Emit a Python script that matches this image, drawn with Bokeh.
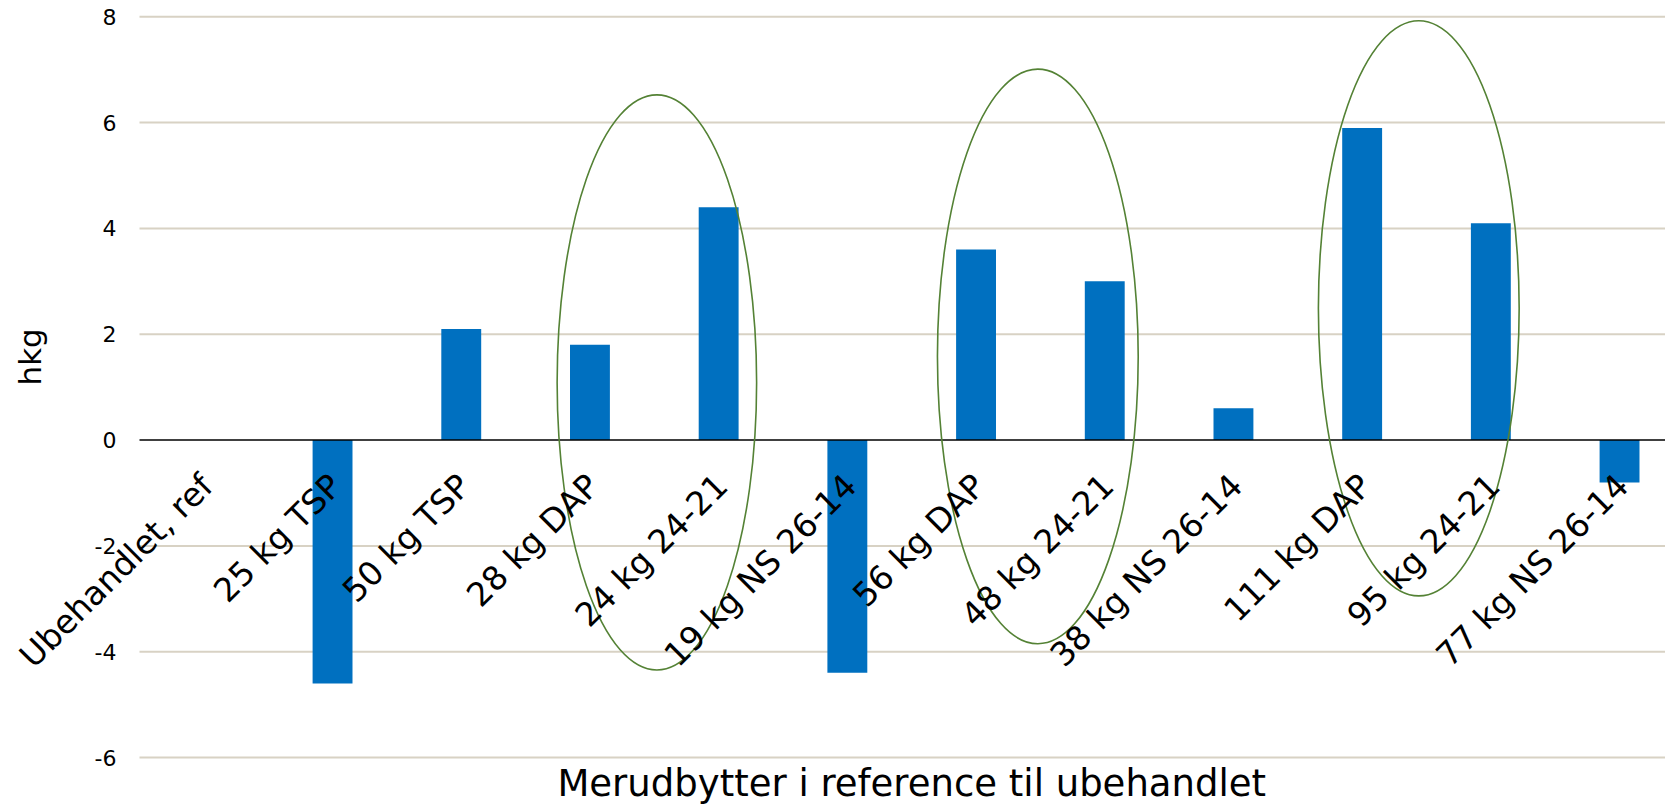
from math import pi
from bokeh.plotting import figure
from bokeh.models import Range1d, FixedTicker, ColumnDataSource, Label
from bokeh.embed import file_html
from bokeh.resources import INLINE

categories = ["Ubehandlet, ref", "25 kg TSP", "50 kg TSP", "28 kg DAP",
              "24 kg 24-21", "19 kg NS 26-14", "56 kg DAP", "48 kg 24-21",
              "38 kg NS 26-14", "111 kg DAP", "95 kg 24-21", "77 kg NS 26-14"]
values = [0, -4.6, 2.1, 1.8, 4.4, -4.4, 3.6, 3.0, 0.6, 5.9, 4.1, -0.8]
y_ticks = [-6, -4, -2, 0, 2, 4, 6, 8]
y_tick_labels = ["-6", "-4", "-2", "0", "2", "4", "6", "8"]
y_label = "hkg"
x_title = "Merudbytter i reference til ubehandlet"

# highlight ellipses around groups (centre category position, centre value, width, height)
ell_x = [3.52, 6.48, 9.44]
ell_y = [1.09, 1.58, 2.49]
ell_w = [1.55, 1.56, 1.56]
ell_h = [10.87, 10.86, 10.88]

FONT = "DejaVu Sans"
W, H = 1665, 805
PLOT_LEFT_PX = 139          # where the value axis sits
PX_PER_CAT = 128.7
PX_PER_UNIT = 52.93
TOP_PX = 16.3               # pixel row of the top tick
BOTTOM_PX = 757             # pixel row of the bottom tick

positions = list(range(len(categories)))
axis_x = positions[0] - 0.5
x_start = axis_x - PLOT_LEFT_PX / PX_PER_CAT
x_end = axis_x + (W - PLOT_LEFT_PX) / PX_PER_CAT
y_end = y_ticks[-1] + TOP_PX / PX_PER_UNIT
y_start = y_ticks[0] - (H - BOTTOM_PX) / PX_PER_UNIT

src = ColumnDataSource(data=dict(x=positions, top=values))

p = figure(width=W, height=H,
           x_range=Range1d(x_start, x_end), y_range=Range1d(y_start, y_end),
           output_backend="svg", toolbar_location=None, min_border=0)
p.outline_line_color = None
p.background_fill_color = "white"

p.xaxis.visible = False
p.xgrid.visible = False
p.ygrid.visible = False

ya = p.yaxis[0]
ya.fixed_location = axis_x
ya.ticker = FixedTicker(ticks=y_ticks)
ya.major_label_overrides = {t: l for t, l in zip(y_ticks, y_tick_labels)}
ya.major_label_text_font = FONT
ya.major_label_text_font_size = "22px"
ya.major_label_text_color = "black"
ya.major_tick_out = 0
ya.major_tick_in = 0
ya.major_label_standoff = 23
ya.axis_line_color = None
ya.major_tick_line_color = None
ya.minor_tick_line_color = None

# horizontal grid lines starting at the value axis
grid_ticks = [t for t in y_ticks if t != 0]
p.segment(x0=[axis_x] * len(grid_ticks), x1=[x_end] * len(grid_ticks),
          y0=grid_ticks, y1=grid_ticks, line_color="#D8D2C4", line_width=2)

p.vbar(x="x", top="top", width=0.31, source=src, fill_color="#0070C0", line_color=None)

# zero line (category axis)
p.segment(x0=[axis_x], x1=[x_end], y0=[0], y1=[0], line_color="black", line_width=1.6)

p.ellipse(x=ell_x, y=ell_y, width=ell_w, height=ell_h,
          fill_color=None, line_color="#548235", line_width=1.6)

for pos, name in zip(positions, categories):
    p.add_layout(Label(x=pos, y=0, text=name, angle=pi / 4,
                       text_align="right", text_baseline="middle",
                       x_offset=3, y_offset=-40,
                       text_font=FONT, text_font_size="33px", text_color="black"))

# value-axis title
p.add_layout(Label(x=axis_x, y=y_ticks[-1] - (356.5 - TOP_PX) / PX_PER_UNIT,
                   x_offset=-110, text=y_label, angle=pi / 2,
                   text_align="center", text_baseline="middle",
                   text_font=FONT, text_font_size="31px", text_color="black"))

# category-axis title
p.add_layout(Label(x=(positions[0] + positions[-1]) / 2, y=y_start, text=x_title,
                   text_align="center", text_baseline="bottom", y_offset=1,
                   text_font=FONT, text_font_size="37px", text_color="black"))

open("out.html", "w").write(file_html(p, INLINE))
